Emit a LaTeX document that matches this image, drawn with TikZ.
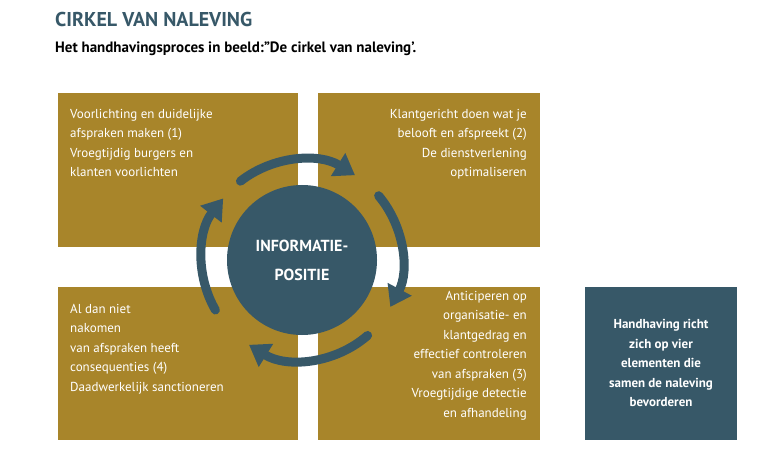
\documentclass[tikz,border=0pt]{standalone}
\usepackage{fontspec}
\setmainfont{PT Sans}
\usetikzlibrary{arrows.meta}
\definecolor{gold}{RGB}{168,133,42}
\definecolor{teal}{RGB}{55,88,104}
\tikzset{
  box/.style={fill=gold},
  boxtext/.style={text=white, font=\fontsize{13}{19.5}\selectfont, inner sep=0pt},
  ring/.style={teal, line width=9pt, line cap=round, -{Triangle[length=20pt,width=26pt]}}
}
\begin{document}
\begin{tikzpicture}[x=1pt,y=1pt]
    \useasboundingbox (0,0) rectangle (759,458);
    % boxes
    \fill[box] (58,211) rectangle (298,365);
    \fill[box] (318,211) rectangle (540,365);
    \fill[box] (58,18) rectangle (298,171);
    \fill[box] (318,18) rectangle (540,171);
    \fill[teal] (585,18) rectangle (737,171);

    % titles
    \node (title) [anchor=west, text=teal, font=\fontsize{20}{24}\selectfont\bfseries, inner sep=0pt] at (55,438) {CIRKEL VAN NALEVING};
    \node (sub) [anchor=west, font=\fontsize{15}{18}\selectfont\bfseries, inner sep=0pt] at (55,409) {Het handhavingsproces in beeld:”De cirkel van naleving’.};

    % box texts
    \node (tl) [boxtext, anchor=north west, align=left] at (70,349) {Voorlichting en duidelijke\\afspraken maken (1)\\Vroegtijdig burgers en\\klanten voorlichten};
    \node (tr) [boxtext, anchor=north east, align=right] at (527,349) {Klantgericht doen wat je\\belooft en afspreekt (2)\\De dienstverlening\\optimaliseren};
    \node (bl) [boxtext, anchor=north west, align=left] at (70,154) {Al dan niet\\nakomen\\van afspraken heeft\\consequenties (4)\\Daadwerkelijk sanctioneren};
    \node (br) [boxtext, anchor=north east, align=right] at (527,167) {Anticiperen op\\organisatie- en\\klantgedrag en\\effectief controleren\\van afspraken (3)\\Vroegtijdige detectie\\en afhandeling};
    \node (note) [boxtext, font=\fontsize{13}{19.5}\selectfont\bfseries, align=center] at (661,95) {Handhaving richt\\zich op vier\\elementen die\\samen de naleving\\bevorderen};

    % centre
    \coordinate (c) at (302,198);
    \fill[teal] (c) circle (75);
    \node (info) [text=white, font=\fontsize{16}{29}\selectfont\bfseries, align=center] at (c) {INFORMATIE-\\POSITIE};

    % ring of arrows
    \draw[ring] ([shift={(128:100)}]c) arc (128:58:100);
    \draw[ring] ([shift={(40:100)}]c) arc (40:-28:100);
    \draw[ring] ([shift={(-49:100)}]c) arc (-49:-122:100);
    \draw[ring] ([shift={(-150:100)}]c) arc (-150:-218:100);
\end{tikzpicture}
\end{document}
